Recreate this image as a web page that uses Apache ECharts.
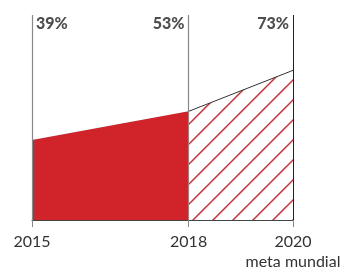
<!DOCTYPE html>
<html><head><meta charset="utf-8">
<script src="https://cdn.jsdelivr.net/npm/echarts@6/dist/echarts.min.js"></script>
<style>html,body{margin:0;padding:0;background:#fff}#c{width:346px;height:272px}</style>
</head><body><div id="c"></div>
<script>
var years = [2015, 2018, 2020];
var values = [39, 53, 73];
var valueLabels = ['39%', '53%', '73%'];
var subLabel = 'meta mundial';

var tile = document.createElement('canvas');
tile.width = 20; tile.height = 20;
var g = tile.getContext('2d');
g.strokeStyle = '#d6232b'; g.lineWidth = 1.4;
g.beginPath();
g.moveTo(-1, 14); g.lineTo(14, -1);
g.moveTo(12, 21); g.lineTo(21, 12);
g.stroke();

var chart = echarts.init(document.getElementById('c'), null, {renderer: 'canvas'});
var font = 'Lato';
chart.setOption({
  animation: false,
  grid: {left: 32, right: 53, top: 15, bottom: 49},
  xAxis: {
    type: 'value', min: years[0], max: years[2],
    axisLine: {show: true, lineStyle: {color: '#444', width: 1}},
    axisTick: {show: true, customValues: years, length: 7, lineStyle: {color: '#888'}},
    axisLabel: {customValues: years, margin: 12, color: '#333', fontFamily: font, fontSize: 16, lineHeight: 20,
      formatter: function (v) { return v === years[2] ? v + '\n' + subLabel : String(v); }},
    splitLine: {show: false}
  },
  yAxis: {type: 'value', min: 0, max: 100, show: false, splitLine: {show: false}},
  series: [
    {type: 'line', data: [[years[0], values[0]], [years[1], values[1]]], symbol: 'none',
      lineStyle: {width: 0}, areaStyle: {color: '#d0232a', opacity: 1}, z: 3},
    {type: 'line', data: [[years[1], values[1]], [years[2], values[2]]], symbol: 'none',
      lineStyle: {width: 1, color: '#333'}, areaStyle: {color: {image: tile, repeat: 'repeat'}, opacity: 1}, z: 3,
      markLine: {silent: true, symbol: 'none', label: {show: false},
        data: [
          {xAxis: years[0], lineStyle: {color: '#888', width: 1.2, type: 'solid'}},
          {xAxis: years[1], lineStyle: {color: '#888', width: 1.2, type: 'solid'}},
          {xAxis: years[2], lineStyle: {color: '#222', width: 1, type: 'solid'}}
        ]}},
    {type: 'scatter', symbolSize: 0, z: 5,
      data: years.map(function (y, i) { return {value: [y, 100], label: {
        show: true, formatter: valueLabels[i],
        position: i === 0 ? 'right' : 'left', distance: 4, offset: [0, 9],
        fontFamily: font, fontWeight: 900, fontSize: 16, color: '#222'}}; })}
  ]
});
</script></body></html>
